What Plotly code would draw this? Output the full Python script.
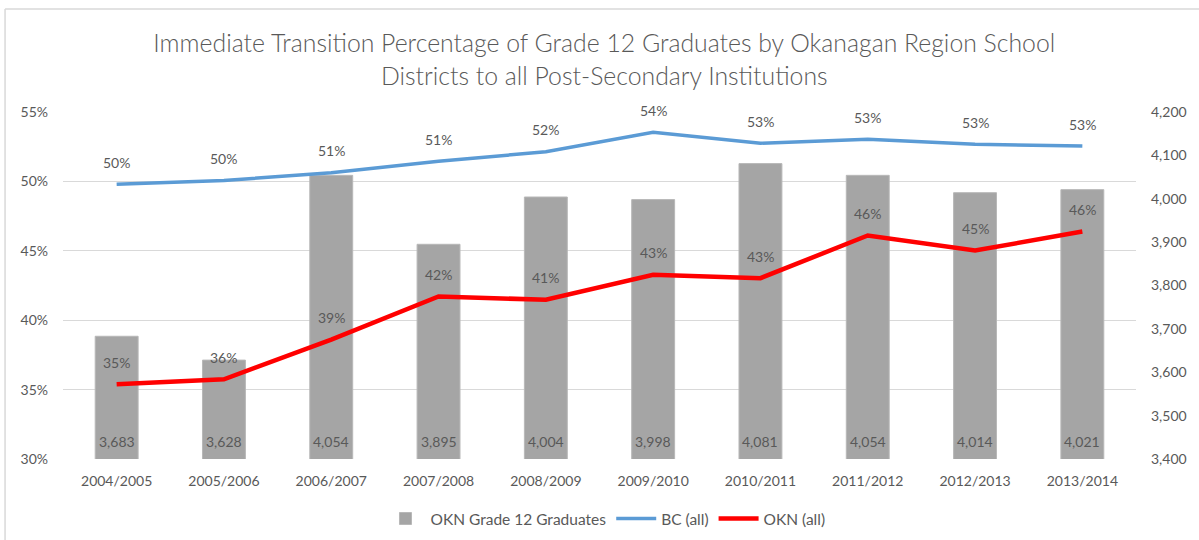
import plotly.graph_objects as go

years = ["2004/2005", "2005/2006", "2006/2007", "2007/2008", "2008/2009",
         "2009/2010", "2010/2011", "2011/2012", "2012/2013", "2013/2014"]
graduates = [3683, 3628, 4054, 3895, 4004, 3998, 4081, 4054, 4014, 4021]
bc_all = [49.8, 50.06, 50.63, 51.45, 52.14, 53.54, 52.75, 53.04, 52.68, 52.55]
okn_all = [35.38, 35.74, 38.6, 41.71, 41.47, 43.27, 43.03, 46.1, 45.02, 46.39]

FONT = "Lato"
TXT = "#595959"

fig = go.Figure()
fig.add_trace(go.Bar(
    x=years, y=graduates, name="OKN Grade 12 Graduates",
    marker=dict(color="#A5A5A5", line=dict(color="#B8B8B8", width=1)),
    width=0.4, yaxis="y", hoverinfo="x+y",
))
fig.add_trace(go.Scatter(
    x=years, y=bc_all, name="BC (all)", mode="lines",
    line=dict(color="#5B9BD5", width=3.5), yaxis="y2",
))
fig.add_trace(go.Scatter(
    x=years, y=okn_all, name="OKN (all)", mode="lines",
    line=dict(color="#FF0000", width=4.5), yaxis="y2",
))

annotations = []
for x, v in zip(years, bc_all):
    annotations.append(dict(x=x, y=v, xref="x", yref="y2", text=f"{round(v)}%",
                            showarrow=False, yshift=22,
                            font=dict(family=FONT, size=14, color=TXT)))
for x, v in zip(years, okn_all):
    annotations.append(dict(x=x, y=v, xref="x", yref="y2", text=f"{round(v)}%",
                            showarrow=False, yshift=22,
                            font=dict(family=FONT, size=14, color=TXT)))
for x, v in zip(years, graduates):
    annotations.append(dict(x=x, y=0, xref="x", yref="paper", text=f"{v:,}",
                            showarrow=False, yshift=18, yanchor="middle",
                            font=dict(family=FONT, size=14, color=TXT)))

fig.update_layout(
    width=1199, height=540,
    paper_bgcolor="white", plot_bgcolor="white",
    margin=dict(l=63, r=60, t=112, b=81),
    title=dict(
        text="Immediate Transition Percentage of Grade 12 Graduates by Okanagan Region School<br>Districts to all Post-Secondary Institutions",
        x=0.504, xanchor="center", y=0.903, yanchor="middle",
        font=dict(family=FONT, size=24.8, color=TXT, weight=300),
    ),
    font=dict(family=FONT, size=14, color=TXT),
    xaxis=dict(showgrid=False, showline=False, ticks="", tickfont=dict(size=14, color=TXT),
               ticklabelstandoff=12),
    yaxis=dict(side="right", range=[3400, 4200], dtick=100, tickformat=",",
               showgrid=False, zeroline=False, showline=False,
               tickfont=dict(size=14, color=TXT), ticklabelstandoff=14),
    yaxis2=dict(side="left", overlaying="y", range=[30, 55], dtick=5, ticksuffix="%",
                showgrid=True, gridcolor="#D9D9D9", gridwidth=1, zeroline=False,
                showline=False, tickfont=dict(size=14, color=TXT), ticklabelstandoff=14),
    legend=dict(orientation="h", x=0.505, xanchor="center", xref="container",
                y=0.039, yanchor="middle", yref="container",
                font=dict(family=FONT, size=15.5, color=TXT), traceorder="normal",
                itemwidth=40),
    annotations=annotations,
    bargap=0.6,
    shapes=[
        dict(type="line", xref="paper", yref="paper", x0=-0.054, x1=-0.054, y0=-0.3, y1=1.297,
             line=dict(color="#D9D9D9", width=1.5)),
        dict(type="line", xref="paper", yref="paper", x0=-0.054, x1=1.06, y0=1.297, y1=1.297,
             line=dict(color="#D9D9D9", width=1.5)),
    ],
)
fig.write_html("out.html", config={"displayModeBar": False},
               post_script="document.body.style.margin='0';document.body.style.overflow='hidden';")
